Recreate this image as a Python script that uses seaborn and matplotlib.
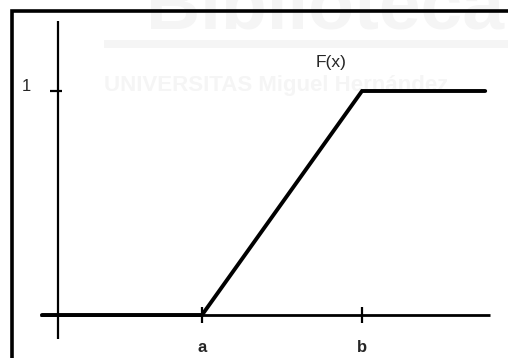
import matplotlib
matplotlib.use("Agg")
import matplotlib.pyplot as plt
from matplotlib.patches import Rectangle
import pandas as pd
import seaborn as sns

# Uniform distribution on [a, b]: cumulative distribution function
a_val = 1.0
b_val = 2.0
x_knots = [0.0, a_val, b_val, 2.77]
cdf_vals = [0.0, 0.0, 1.0, 1.0]
x_tick_labels = ["a", "b"]
y_tick_value = 1.0
y_tick_label = "1"
curve_label = "F(x)"

sns.set_style("white")
plt.rcParams["font.family"] = ["Liberation Sans", "DejaVu Sans"]

fig = plt.figure(figsize=(5.08, 3.58), dpi=100)
ax = fig.add_axes([0, 0, 1, 1])
ax.set_xlim(-0.2625, 2.9125)
ax.set_ylim(-0.192, 1.40625)
ax.axis("off")

# faint library watermark in the background
wm = "#f5f5f5"
ax.text(0.64, 0.975, "Biblioteca", transform=ax.transAxes, fontsize=54,
        fontweight="bold", color=wm, ha="center", va="center", zorder=0)
ax.add_patch(Rectangle((0.205, 0.865), 0.8, 0.022, transform=ax.transAxes,
                       color=wm, lw=0, zorder=0))
ax.text(0.205, 0.762, "UNIVERSITAS Miguel Hernández", transform=ax.transAxes,
        fontsize=16, fontweight="bold", color=wm, ha="left", va="center", zorder=0)

# coordinate axes
ax.plot([-0.0125, 2.8], [0, 0], color="black", lw=2.0, solid_capstyle="butt", zorder=2)
ax.plot([0.1, 0.1], [-0.107, 1.3125], color="black", lw=1.6, solid_capstyle="butt", zorder=2)

# tick marks
for xv in (a_val, b_val):
    ax.plot([xv, xv], [-0.036, 0.036], color="black", lw=1.6, solid_capstyle="butt", zorder=2)
ax.plot([0.05, 0.125], [y_tick_value, y_tick_value], color="black", lw=1.6,
        solid_capstyle="butt", zorder=2)

# CDF curve
df = pd.DataFrame({"x": x_knots, "F": cdf_vals})
sns.lineplot(data=df, x="x", y="F", ax=ax, color="black", lw=2.8,
             sort=False, estimator=None, zorder=3)
ax.lines[-1].set_solid_joinstyle("miter")

# labels
for xv, lab in zip((a_val, b_val), x_tick_labels):
    ax.text(xv, -0.143, lab, fontsize=12, fontweight="bold", ha="center", va="center")
ax.text(-0.1, 1.022, y_tick_label, fontsize=12, ha="center", va="center")
ax.text(1.806, 1.125, curve_label, fontsize=12.5, ha="center", va="center")
ax.set_xlabel("")
ax.set_ylabel("")

# frame along the top and left edges
fig.add_artist(plt.Line2D([11.5 / 508, 11.5 / 508, 1.0], [0.0, 1 - 10.5 / 358, 1 - 10.5 / 358],
                          transform=fig.transFigure, color="black", lw=2.6,
                          solid_joinstyle="miter"))

fig.savefig("out.png", dpi=100)
